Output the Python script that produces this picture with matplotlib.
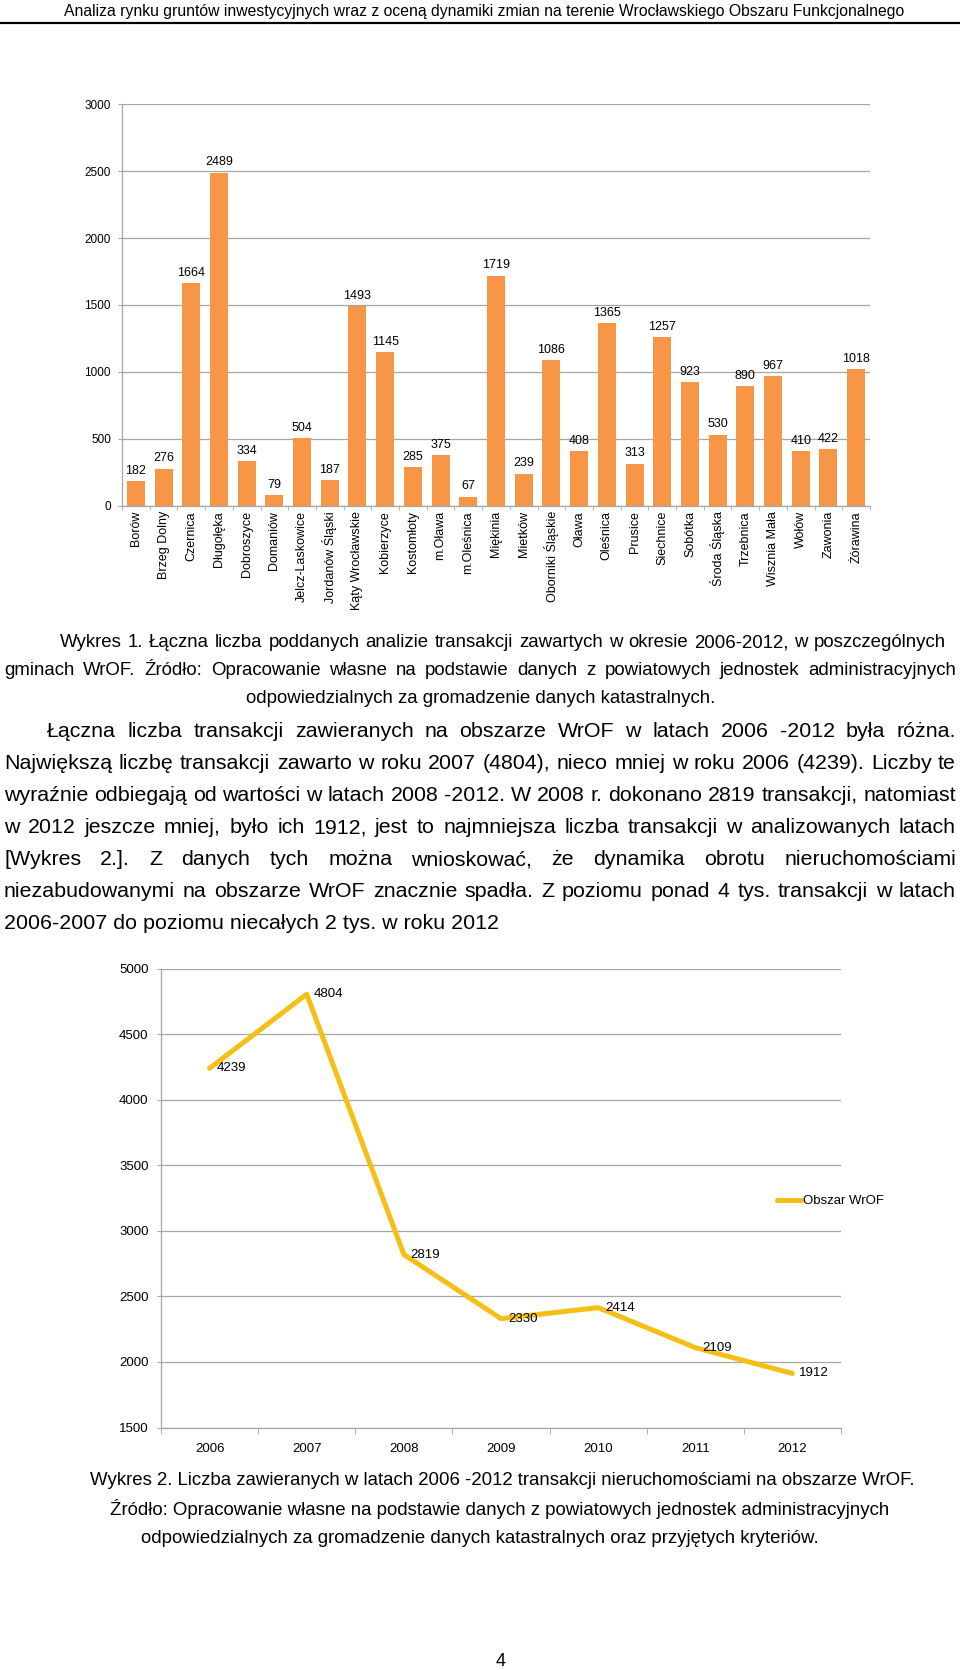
import matplotlib
matplotlib.use('Agg')
import matplotlib.pyplot as plt
import numpy as np

plt.rcParams['font.family'] = ['Liberation Sans', 'DejaVu Sans']

# ---- dane: wykres 1 (liczba transakcji w gminach 2006-2012)
gminy = ["Borów", "Brzeg Dolny", "Czernica", "Długołęka", "Dobroszyce", "Domaniów",
         "Jelcz-Laskowice", "Jordanów Śląski", "Kąty Wrocławskie", "Kobierzyce",
         "Kostomłoty", "m.Oława", "m.Oleśnica", "Miękinia", "Mietków",
         "Oborniki Śląskie", "Oława", "Oleśnica", "Prusice", "Siechnice", "Sobótka",
         "Środa Śląska", "Trzebnica", "Wisznia Mała", "Wołów", "Zawonia", "Żórawina"]
transakcje = [182, 276, 1664, 2489, 334, 79, 504, 187, 1493, 1145, 285, 375, 67, 1719,
              239, 1086, 408, 1365, 313, 1257, 923, 530, 890, 967, 410, 422, 1018]

# ---- dane: wykres 2 (obszar WrOF w latach)
lata = ["2006", "2007", "2008", "2009", "2010", "2011", "2012"]
wrof = [4239, 4804, 2819, 2330, 2414, 2109, 1912]

naglowek = "Analiza rynku gruntów inwestycyjnych wraz z oceną dynamiki zmian na terenie Wrocławskiego Obszaru Funkcjonalnego"

podpis1 = [
    "Wykres 1. Łączna liczba poddanych analizie transakcji zawartych w okresie 2006-2012, w poszczególnych",
    "gminach WrOF. Źródło: Opracowanie własne na podstawie danych z powiatowych jednostek administracyjnych",
    "odpowiedzialnych za gromadzenie danych katastralnych.",
]
akapit = [
    "Łączna liczba transakcji zawieranych na obszarze WrOF w latach 2006 -2012 była różna.",
    "Największą liczbę transakcji zawarto w roku 2007 (4804), nieco mniej w roku 2006 (4239). Liczby te",
    "wyraźnie odbiegają od wartości w latach 2008 -2012. W 2008 r. dokonano 2819 transakcji, natomiast",
    "w 2012 jeszcze mniej, było ich 1912, jest to najmniejsza liczba transakcji w analizowanych latach",
    "[Wykres 2.]. Z danych tych można wnioskować, że dynamika obrotu nieruchomościami",
    "niezabudowanymi na obszarze WrOF znacznie spadła. Z poziomu ponad 4 tys. transakcji w latach",
    "2006-2007 do poziomu niecałych 2 tys. w roku 2012",
]
podpis2 = [
    "Wykres 2. Liczba zawieranych w latach 2006 -2012 transakcji nieruchomościami na obszarze WrOF.",
    "Źródło: Opracowanie własne na podstawie danych z powiatowych jednostek administracyjnych",
    "odpowiedzialnych za gromadzenie danych katastralnych oraz przyjętych kryteriów.",
]

W, H = 960, 1670
ORANGE = '#F79646'
GOLD = '#F5BF15'
GRID = '#A6A6A6'

fig = plt.figure(figsize=(W / 100, H / 100), dpi=100)
fig.patch.set_facecolor('white')


def fx(px):
    return px / W


def fy(py):
    return 1 - py / H


def style_axes(ax):
    for s in ['top', 'right']:
        ax.spines[s].set_visible(False)
    for s in ['left', 'bottom']:
        ax.spines[s].set_color(GRID)
        ax.spines[s].set_linewidth(0.9)
    ax.yaxis.grid(True, color=GRID, linewidth=0.9)
    ax.set_axisbelow(True)


# ============ wykres 1: słupki ============
ax1 = fig.add_axes([fx(122), fy(505.5), fx(748), 401.2 / H])
x = np.arange(len(gminy))
ax1.bar(x, transakcje, width=0.65, color=ORANGE, zorder=2)
ax1.set_xlim(-0.5, len(gminy) - 0.5)
ax1.set_ylim(0, 3000)
ax1.set_yticks(np.arange(0, 3001, 500))
style_axes(ax1)
ax1.tick_params(axis='y', length=3, color=GRID, labelsize=8.5, pad=5)
ax1.set_xticks(x, gminy, rotation=90, fontsize=9)
ax1.set_xticks(np.arange(-0.5, len(gminy), 1), minor=True)
ax1.tick_params(axis='x', which='major', length=0, pad=4)
ax1.tick_params(axis='x', which='minor', length=3, color=GRID)
for xi, v in zip(x, transakcje):
    ax1.annotate(str(v), (xi, v), xytext=(0, 3), textcoords='offset points',
                 ha='center', va='bottom', fontsize=9)

# ============ wykres 2: linia ============
ax2 = fig.add_axes([fx(161), fy(1427.5), fx(680), 459 / H])
xl = np.arange(len(lata))
ax2.plot(xl, wrof, color=GOLD, linewidth=3.6, solid_joinstyle='round',
         solid_capstyle='round', label='Obszar WrOF', zorder=3)
ax2.set_xlim(-0.5, len(lata) - 0.5)
ax2.set_ylim(1500, 5000)
ax2.set_yticks(np.arange(1500, 5001, 500))
style_axes(ax2)
ax2.tick_params(axis='y', length=3, color=GRID, labelsize=9.5, pad=6)
ax2.set_xticks(xl, lata, fontsize=9.5)
ax2.set_xticks(np.arange(-0.5, len(lata), 1), minor=True)
ax2.tick_params(axis='x', which='major', length=0, pad=11)
ax2.tick_params(axis='x', which='minor', length=4, color=GRID)
for xi, v in zip(xl, wrof):
    ax2.annotate(str(v), (xi, v), xytext=(5, 0), textcoords='offset points',
                 ha='left', va='center', fontsize=9.5)
ax2.legend(loc='center left', bbox_to_anchor=(fx(777), fy(1201)),
           bbox_transform=fig.transFigure, frameon=False, borderpad=0,
           borderaxespad=0, handlelength=1.8, handletextpad=0.15, fontsize=9.5)

# ============ tekst strony ============
fig.text(fx(484), fy(16), naglowek, ha='center', va='baseline', fontsize=11.3)
fig.add_artist(plt.Line2D([0, 1], [fy(23), fy(23)], color='black', linewidth=1.6,
                          transform=fig.transFigure))

renderer = fig.canvas.get_renderer()


def natural_size(line, target, base=13.0):
    # rozmiar czcionki, przy którym linia ma zadaną szerokość
    t = fig.text(0, 0, line, fontsize=base)
    w = t.get_window_extent(renderer).width
    t.remove()
    return base * target / w


def justify(line, x0, x1, y, size):
    words = line.split(' ')
    texts = [fig.text(0, fy(y), w, ha='left', va='baseline', fontsize=size) for w in words]
    widths = [t.get_window_extent(renderer).width for t in texts]
    gap = (x1 - x0 - sum(widths)) / (len(words) - 1)
    pos = x0
    for t, w in zip(texts, widths):
        t.set_x(fx(pos))
        pos += w + gap


def place(line, xc, y, size, ha='center'):
    fig.text(fx(xc), fy(y), line, ha=ha, va='baseline', fontsize=size)


cap_size = natural_size(podpis1[0], 946 - 60 - 6)
par_size = natural_size(akapit[1], 952 - 8)

justify(podpis1[0], 60, 946, 647, cap_size)
justify(podpis1[1], 4, 956, 675, cap_size)
place(podpis1[2], 481, 703, cap_size)

ys = [737, 769, 801, 833, 865, 897, 929]
justify(akapit[0], 47, 956, ys[0], par_size)
for line, y in zip(akapit[1:6], ys[1:6]):
    justify(line, 4, 956, y, par_size)
place(akapit[6], 4, ys[6], par_size, ha='left')

place(podpis2[0], 502, 1485, cap_size)
place(podpis2[1], 500, 1515, cap_size)
place(podpis2[2], 480, 1543, cap_size)
place("4", 501, 1666, 13)

fig.savefig('out.png', dpi=100, facecolor='white')
